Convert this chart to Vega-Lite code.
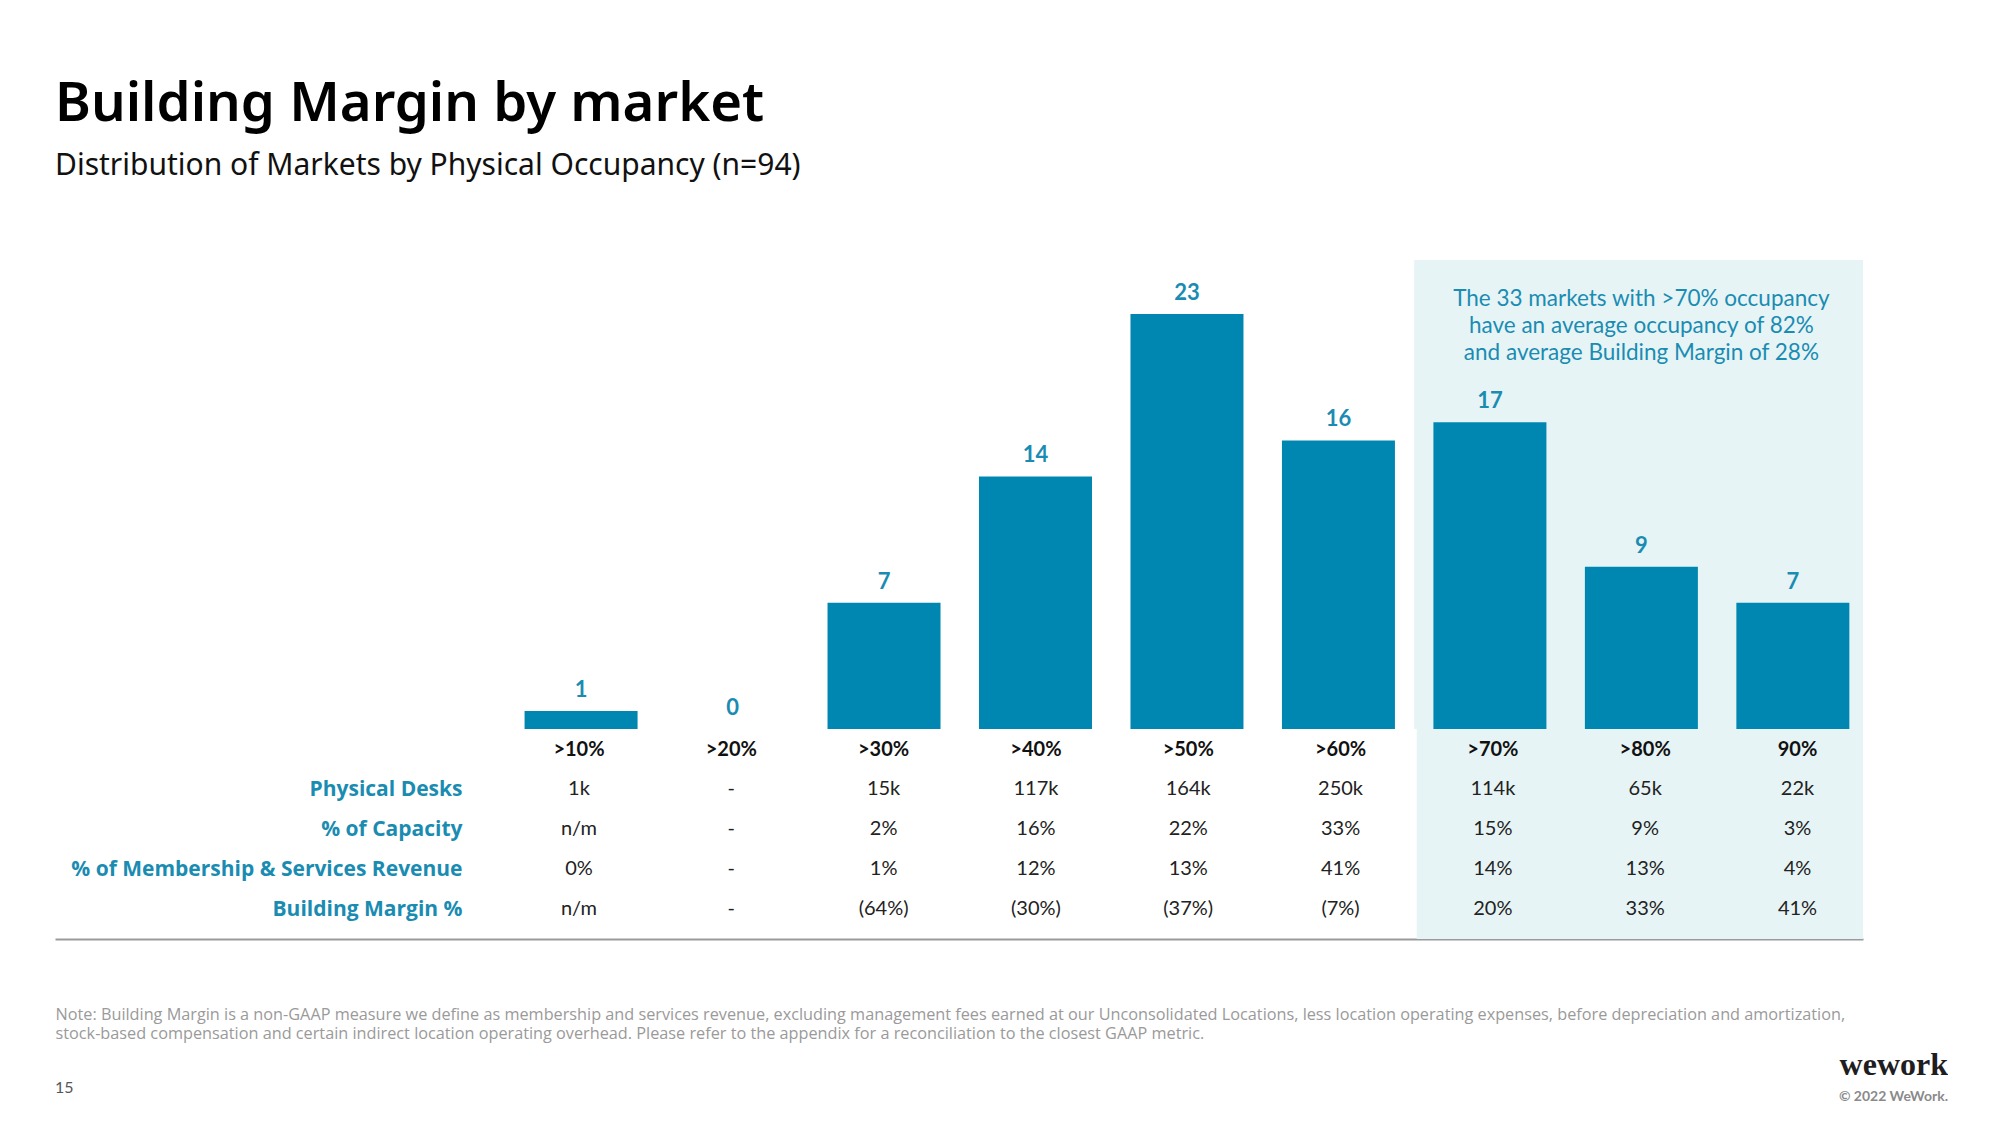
{
  "$schema": "https://vega.github.io/schema/vega-lite/v6.json",
  "padding": {"left": 55, "top": 76, "right": 0, "bottom": 0},
  "background": "#ffffff",
  "title": {
    "text": "Building Margin by market",
    "subtitle": "Distribution of Markets by Physical Occupancy (n=94)",
    "anchor": "start",
    "font": "Noto Sans",
    "fontSize": 54.5,
    "fontWeight": 600,
    "color": "#000000",
    "subtitleFont": "Noto Sans",
    "subtitleFontSize": 30,
    "subtitleFontWeight": 400,
    "subtitleColor": "#111111",
    "subtitlePadding": 19,
    "offset": 78
  },
  "datasets": {
    "markets": [
      {"occ": 10, "bucket": ">10%", "markets": 1, "desks": "1k", "capacity": "n/m", "revenue": "0%", "margin": "n/m"},
      {"occ": 20, "bucket": ">20%", "markets": 0, "desks": "-", "capacity": "-", "revenue": "-", "margin": "-"},
      {"occ": 30, "bucket": ">30%", "markets": 7, "desks": "15k", "capacity": "2%", "revenue": "1%", "margin": "(64%)"},
      {"occ": 40, "bucket": ">40%", "markets": 14, "desks": "117k", "capacity": "16%", "revenue": "12%", "margin": "(30%)"},
      {"occ": 50, "bucket": ">50%", "markets": 23, "desks": "164k", "capacity": "22%", "revenue": "13%", "margin": "(37%)"},
      {"occ": 60, "bucket": ">60%", "markets": 16, "desks": "250k", "capacity": "33%", "revenue": "41%", "margin": "(7%)"},
      {"occ": 70, "bucket": ">70%", "markets": 17, "desks": "114k", "capacity": "15%", "revenue": "14%", "margin": "20%"},
      {"occ": 80, "bucket": ">80%", "markets": 9, "desks": "65k", "capacity": "9%", "revenue": "13%", "margin": "33%"},
      {"occ": 90, "bucket": "90%", "markets": 7, "desks": "22k", "capacity": "3%", "revenue": "4%", "margin": "41%"}
    ],
    "highlight": [
      {"start": 65, "mid": 80, "note": ["The 33 markets with >70% occupancy", "have an average occupancy of 82%", "and average Building Margin of 28%"]}
    ],
    "footer": [
      {"page": "15", "brand": "wework", "copyright": "© 2022 WeWork."}
    ]
  },
  "vconcat": [
    {
      "width": 1808,
      "height": 469,
      "layer": [
        {
          "data": {"name": "highlight"},
          "mark": {"type": "rect", "color": "#e7f4f6"},
          "encoding": {
            "x": {"field": "start", "type": "quantitative", "scale": {"domain": [-24.4, 94.3], "nice": false, "zero": false}, "axis": null},
            "x2": {"value": "width"}
          }
        },
        {
          "data": {"name": "markets"},
          "mark": {"type": "bar", "width": 113, "color": "#0087b1"},
          "encoding": {
            "x": {"field": "occ", "type": "quantitative", "scale": {"domain": [-24.4, 94.3], "nice": false, "zero": false},
              "axis": {"labels": false, "ticks": false, "grid": false, "title": null, "domain": true, "domainColor": "#9a9a9a", "domainWidth": 2}},
            "y": {"field": "markets", "type": "quantitative", "scale": {"domain": [0, 26], "nice": false}, "axis": null}
          }
        },
        {
          "data": {"name": "markets"},
          "mark": {"type": "text", "font": "Lato", "fontSize": 22, "fontWeight": 700, "color": "#1a8cb2", "baseline": "alphabetic", "dy": -14},
          "encoding": {
            "x": {"field": "occ", "type": "quantitative"},
            "y": {"field": "markets", "type": "quantitative"},
            "text": {"field": "markets", "type": "quantitative"}
          }
        },
        {
          "data": {"name": "highlight"},
          "mark": {"type": "text", "font": "Lato", "fontSize": 22.5, "fontWeight": 400, "color": "#1a8cb2", "align": "center", "baseline": "middle", "lineHeight": 27, "y": 39},
          "encoding": {
            "x": {"field": "mid", "type": "quantitative"},
            "text": {"field": "note"}
          }
        }
      ]
    },
    {
      "width": 1808,
      "height": 210,
      "layer": [
        {
          "data": {"name": "highlight"},
          "mark": {"type": "rect", "color": "#e7f4f6"},
          "encoding": {
            "x": {"field": "start", "type": "quantitative", "scale": {"domain": [-24.4, 94.3], "nice": false, "zero": false},
              "axis": {"labels": false, "ticks": false, "grid": false, "domain": true, "domainColor": "#9a9a9a", "domainWidth": 2,
                "title": ["Note: Building Margin is a non-GAAP measure we define as membership and services revenue, excluding management fees earned at our Unconsolidated Locations, less location operating expenses, before depreciation and amortization,", "stock-based compensation and certain indirect location operating overhead. Please refer to the appendix for a reconciliation to the closest GAAP metric."],
                "titleAnchor": "start", "titleAlign": "left", "titleFont": "Open Sans", "titleFontSize": 16.25, "titleFontWeight": 400, "titleColor": "#9a9a9a", "titlePadding": 67, "titleLineHeight": 19, "titleLimit": 0}},
            "x2": {"value": "width"}
          }
        },
        {
          "data": {"name": "markets"},
          "transform": [
            {"fold": ["bucket", "desks", "capacity", "revenue", "margin"], "as": ["row", "value"]},
            {"filter": "datum.row == 'bucket'"}
          ],
          "mark": {"type": "text", "font": "Lato", "fontSize": 20, "fontWeight": 700, "color": "#111111", "baseline": "middle", "dy": 1},
          "encoding": {
            "x": {"field": "occ", "type": "quantitative"},
            "y": {"field": "row", "type": "nominal", "scale": {"type": "point", "domain": ["bucket", "desks", "capacity", "revenue", "margin"], "padding": 0.625, "align": 0.4},
              "axis": {"orient": "left", "offset": -407, "domain": false, "ticks": false, "grid": false, "title": null, "labelPadding": 0, "labelLimit": 0,
                "labelExpr": "{'bucket': '', 'desks': 'Physical Desks', 'capacity': '% of Capacity', 'revenue': '% of Membership & Services Revenue', 'margin': 'Building Margin %'}[datum.value]",
                "labelFont": "Open Sans", "labelFontSize": 21, "labelFontWeight": 700, "labelColor": "#1a8cb2", "labelAlign": "right", "labelBaseline": "middle", "labelOffset": 0}},
            "text": {"field": "value"}
          }
        },
        {
          "data": {"name": "markets"},
          "transform": [
            {"fold": ["bucket", "desks", "capacity", "revenue", "margin"], "as": ["row", "value"]},
            {"filter": "datum.row != 'bucket'"}
          ],
          "mark": {"type": "text", "font": "Lato", "fontSize": 20, "fontWeight": 400, "color": "#222222", "baseline": "middle", "dy": 0},
          "encoding": {
            "x": {"field": "occ", "type": "quantitative"},
            "y": {"field": "row", "type": "nominal"},
            "text": {"field": "value"}
          }
        }
      ]
    },
    {
      "width": 1893,
      "height": 62,
      "data": {"name": "footer"},
      "layer": [
        {
          "mark": {"type": "text", "font": "Lato", "fontSize": 16, "color": "#555555", "align": "left", "baseline": "alphabetic"},
          "encoding": {"text": {"field": "page"}, "x": {"value": 0}, "y": {"value": 51}}
        },
        {
          "mark": {"type": "text", "font": "Liberation Serif", "fontSize": 32, "fontWeight": 700, "color": "#1e1e22", "align": "right", "baseline": "alphabetic"},
          "encoding": {"text": {"field": "brand"}, "x": {"value": "width"}, "y": {"value": 33}}
        },
        {
          "mark": {"type": "text", "font": "Lato", "fontSize": 14, "fontWeight": 700, "color": "#8a8a8a", "align": "right", "baseline": "alphabetic"},
          "encoding": {"text": {"field": "copyright"}, "x": {"value": "width"}, "y": {"value": 59}}
        }
      ]
    }
  ],
  "spacing": 0,
  "config": {
    "view": {"stroke": null},
    "concat": {"spacing": 0}
  }
}
